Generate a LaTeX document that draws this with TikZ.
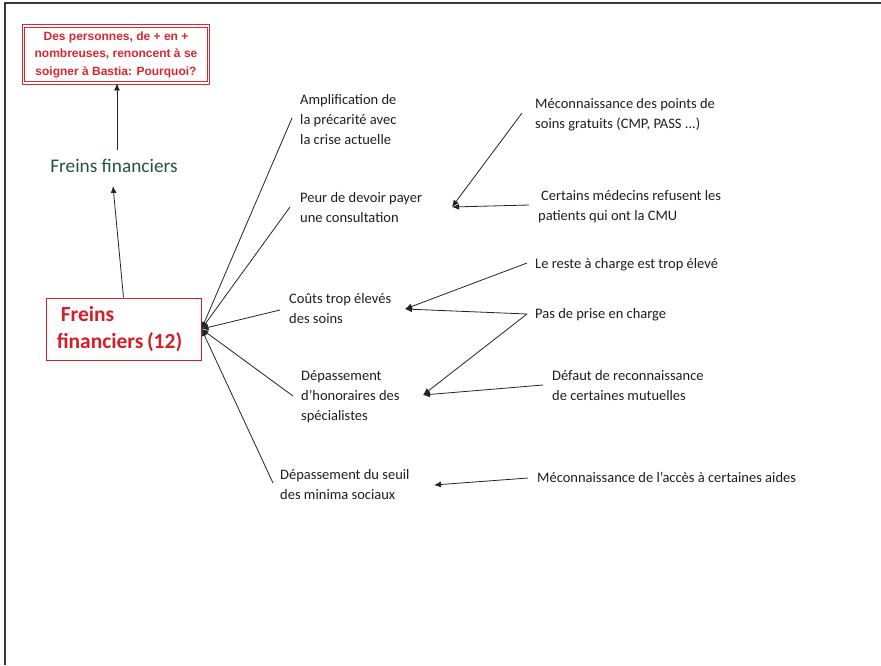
\documentclass[tikz,border=0pt]{standalone}
\usepackage{fontspec}
\setmainfont{Carlito}
\newfontfamily\arialfont{Liberation Sans}
\usetikzlibrary{arrows.meta}

\definecolor{titlered}{RGB}{222,38,46}
\definecolor{boxred}{RGB}{214,30,38}
\definecolor{darkgreen}{RGB}{36,82,66}
\definecolor{framegray}{RGB}{55,55,55}
\definecolor{linegray}{RGB}{35,35,35}
\definecolor{textgray}{RGB}{30,30,30}

\tikzset{
  % anchored on the baseline of the last line
  item/.style={anchor=base west, inner sep=0pt, align=left,
    font=\fontsize{14.5}{20}\selectfont, text=textgray},
  link/.style={draw=linegray, line width=0.8pt},
  arrow/.style={link, -{Latex[length=7pt,width=6pt]}},
}

\begin{document}
\begin{tikzpicture}[x=1pt,y=-1pt]
  \useasboundingbox (0,0) rectangle (881,665);
  % page frame (top and left edges)
  \draw[framegray, line width=1.5pt] (881,3) -- (5,3) -- (5,665);

  % question box
  \node[draw=titlered, double=white, line width=0.9pt, double distance=1.6pt,
        minimum width=185pt, minimum height=57pt, inner sep=0pt, align=center,
        text=titlered, font=\arialfont\bfseries\fontsize{12}{17.5}\selectfont]
        (title) at (116,54.5) {Des personnes, de + en +\\nombreuses, renoncent à se\\soigner à Bastia: Pourquoi?};

  % theme label
  \node[inner sep=0pt, text=darkgreen, font=\fontsize{19.3}{23}\selectfont]
        (fin) at (114,166) {Freins financiers};

  % main box
  \node[draw=boxred, line width=1pt, minimum width=155pt, minimum height=62pt,
        inner sep=0pt, align=left, text=boxred,
        font=\bfseries\fontsize{21.5}{27}\selectfont]
        (main) at (123.5,329) {\hspace*{4pt}Freins\\financiers\,(12)\hspace*{8pt}};

  % causes
  \node[item] (amp)   at (300,144) {Amplification de\\la précarité avec\\la crise actuelle};
  \node[item] (peur)  at (300,222) {Peur de devoir payer\\une consultation};
  \node[item] (couts) at (289,323) {Coûts trop élevés\\des soins};
  \node[item] (honor) at (301,420) {Dépassement\\d’honoraires des\\spécialistes};
  \node[item] (seuil) at (280,499) {Dépassement du seuil\\des minima sociaux};

  % sub-causes
  \node[item] (mecpts)    at (535,128) {Méconnaissance des points de\\soins gratuits (CMP, PASS ...)};
  \node[item] (medecins)  at (538,220) {\hspace*{3pt}Certains médecins refusent les\\patients qui ont la CMU};
  \node[item] (reste)     at (535,268) {Le reste à charge est trop élevé};
  \node[item] (prise)     at (535,318) {Pas de prise en charge};
  \node[item] (mutuelles) at (552,400) {Défaut de reconnaissance\\de certaines mutuelles};
  \node[item] (aides)     at (537,482) {Méconnaissance de l’accès à certaines aides};

  % connector ends
  \coordinate (fin-top)   at (117,150);
  \coordinate (fin-bot)   at (113,186);
  \coordinate (amp-in)    at (292,118);
  \coordinate (peur-in)   at (290,207);
  \coordinate (couts-in)  at (280,310);
  \coordinate (honor-in)  at (293,396);
  \coordinate (seuil-in)  at (273,483);
  \coordinate (peur-tip)  at (452,207);
  \coordinate (couts-tip) at (405,309);
  \coordinate (honor-tip) at (423,395);
  \coordinate (seuil-tip) at (434,485);
  \coordinate (mecpts-out)    at (522,113);
  \coordinate (medecins-out)  at (529,205);
  \coordinate (reste-out)     at (527,263);
  \coordinate (prise-out)     at (527,314);
  \coordinate (mutuelles-out) at (543,385);
  \coordinate (aides-out)     at (528,478);

  % upward chain
  \draw[arrow] (fin-top) -- (title.south -| fin-top);
  \draw[arrow] (main.north) -- (fin-bot);

  % causes into the main box
  \foreach \c in {amp,peur,couts,honor,seuil}
    \draw[arrow] (\c-in) -- (main.east);

  % sub-causes into their causes
  \draw[arrow] (mecpts-out) -- (peur-tip);
  \draw[arrow] (medecins-out) -- (peur-tip);
  \draw[arrow] (reste-out) -- (couts-tip);
  \draw[arrow] (prise-out) -- (couts-tip);
  \draw[arrow] (prise-out) -- (honor-tip);
  \draw[arrow] (mutuelles-out) -- (honor-tip);
  \draw[arrow] (aides-out) -- (seuil-tip);
\end{tikzpicture}
\end{document}
